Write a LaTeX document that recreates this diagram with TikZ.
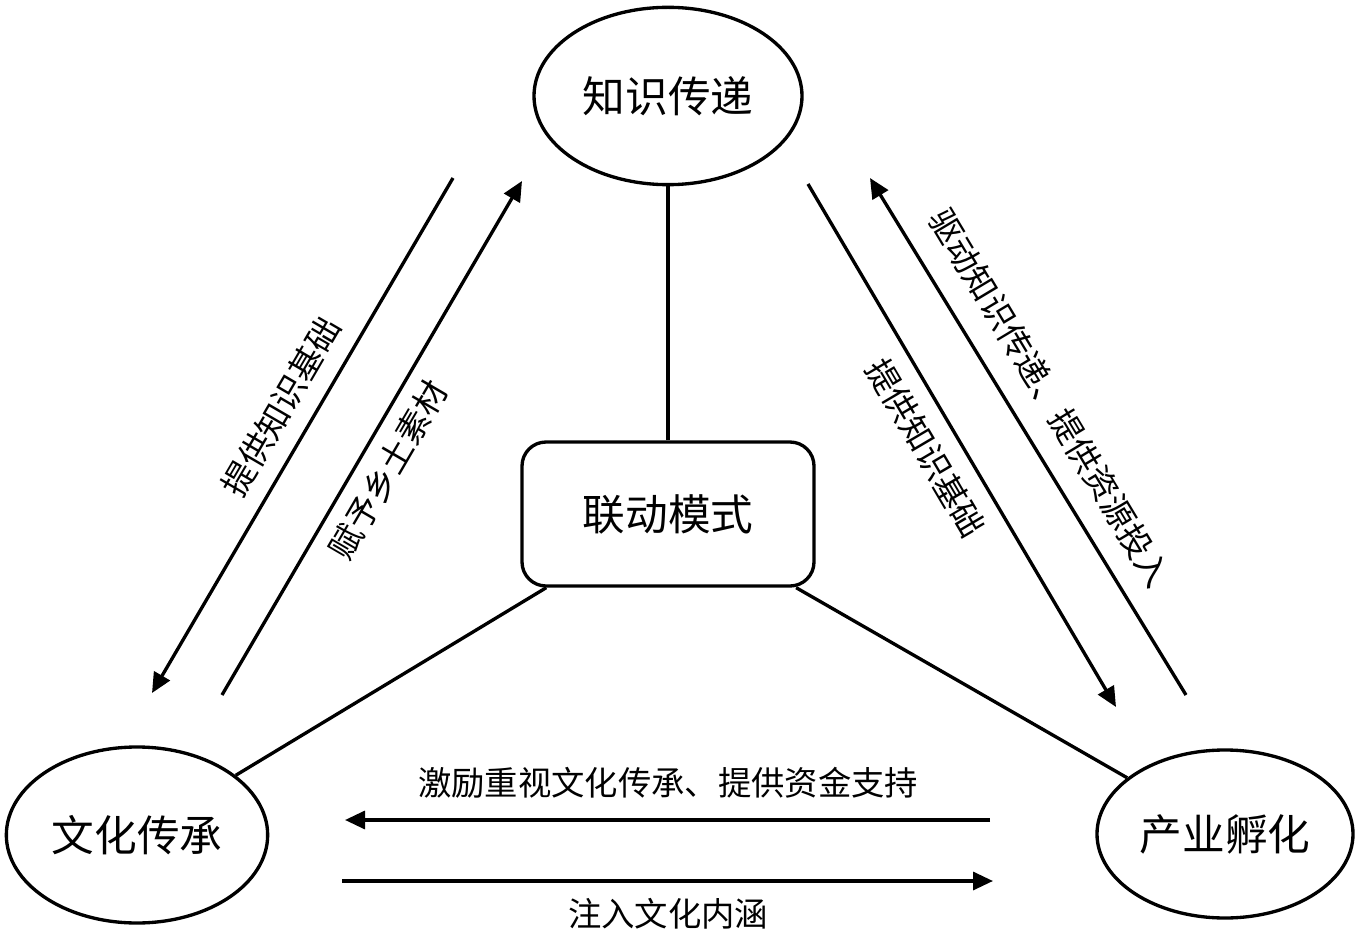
\documentclass[tikz,border=0pt]{standalone}
\usepackage{fontspec}
\setmainfont{Noto Sans CJK SC}
\usetikzlibrary{shapes.geometric,arrows.meta}
\begin{document}
\begin{tikzpicture}[x=0.75pt,y=-0.75pt,
  oval/.style={ellipse,draw,line width=2.5pt,inner sep=0pt,font=\fontsize{32pt}{36pt}\selectfont},
  hub/.style={rectangle,rounded corners=18pt,draw,line width=2.5pt,minimum width=219pt,minimum height=108pt,inner sep=0pt,font=\fontsize{32pt}{36pt}\selectfont},
  lab/.style={font=\fontsize{25pt}{28pt}\selectfont,inner sep=0pt},
  conn/.style={line width=2.5pt},
  arr/.style={line width=2.5pt,-{Triangle[length=15pt,width=13.5pt]}},
]
\useasboundingbox (0,0) rectangle (1357,941);

\node[oval,minimum width=201pt,minimum height=133pt] (zhishi) at (668,96) {知识传递};
\node[oval,minimum width=196pt,minimum height=132pt] (wenhua) at (137,835) {文化传承};
\node[oval,minimum width=192pt,minimum height=126pt] (chanye) at (1225,834) {产业孵化};
\node[hub] (link) at (668,514) {联动模式};

\draw[conn] (link) -- (zhishi);
\draw[conn] (link) -- (wenhua);
\draw[conn] (link) -- (chanye);

% left pair
\coordinate (a1s) at (453,178);
\coordinate (a1e) at (152,693);
\coordinate (a2s) at (222,695);
\coordinate (a2e) at (522,181);
\draw[arr] (a1s) -- (a1e);
\draw[arr] (a2s) -- (a2e);
\node[lab,rotate=59.7] (l1) at (281,407) {提供知识基础};
\node[lab,rotate=59.7] (l2) at (388,470) {赋予乡土素材};

% right pair
\coordinate (b1s) at (808,184);
\coordinate (b1e) at (1116,707);
\coordinate (b2s) at (1186,695);
\coordinate (b2e) at (870,178);
\draw[arr] (b1s) -- (b1e);
\draw[arr] (b2s) -- (b2e);
\node[lab,rotate=-59.5] (r1) at (926,448) {提供知识基础};
\node[lab,rotate=-59.0] (r2) at (1050,398) {驱动知识传递、提供资源投入};

% bottom pair
\coordinate (c1s) at (990,820);
\coordinate (c1e) at (345,820);
\coordinate (c2s) at (342,881);
\coordinate (c2e) at (993,881);
\draw[arr] (c1s) -- (c1e);
\draw[arr] (c2s) -- (c2e);
\node[lab] (t1) at (668,783) {激励重视文化传承、提供资金支持};
\node[lab] (t2) at (668,914) {注入文化内涵};
\end{tikzpicture}
\end{document}
